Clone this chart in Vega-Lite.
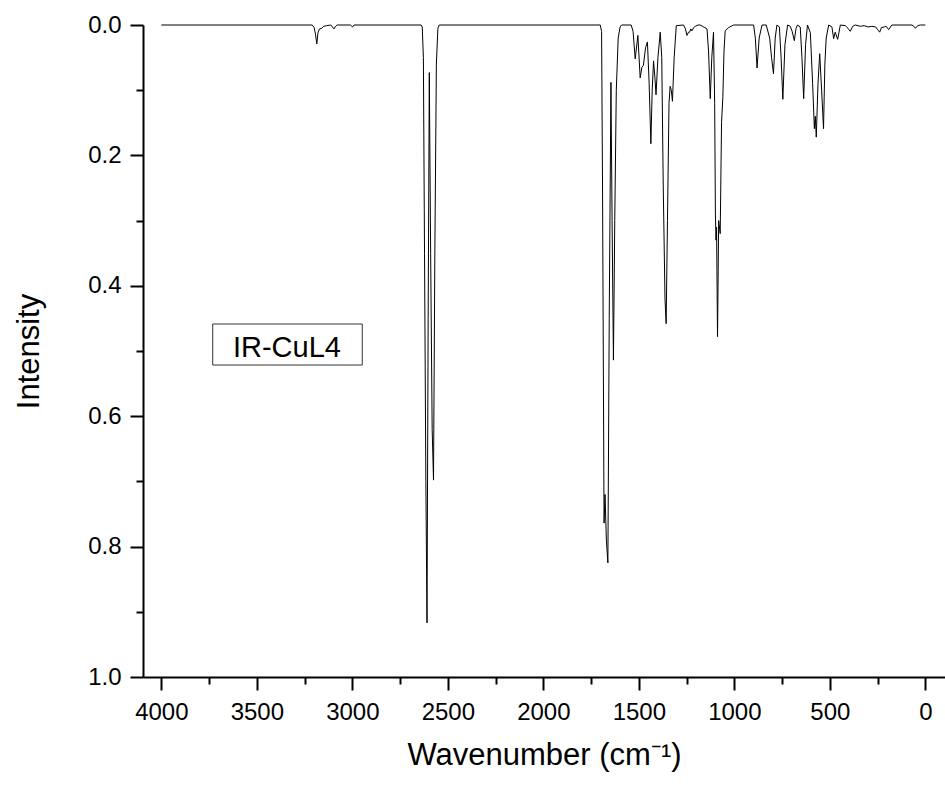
{
  "$schema": "https://vega.github.io/schema/vega-lite/v6.json",
  "width": 802,
  "height": 652,
  "autosize": {"type": "none"},
  "padding": {"left": 143, "top": 25, "right": 0, "bottom": 108},
  "background": "white",
  "config": {"view": {"stroke": null}, "font": "Liberation Sans"},
  "datasets": {
    "spectrum": [
      {"w": 4000, "i": 0}, {"w": 3210, "i": 0}, {"w": 3200, "i": 0.004}, {"w": 3193, "i": 0.014}, {"w": 3186, "i": 0.029}, {"w": 3180, "i": 0.012}, {"w": 3172, "i": 0.006}, {"w": 3160, "i": 0.005}, {"w": 3150, "i": 0.002}, {"w": 3134, "i": 0.001}, {"w": 3113, "i": 0}, {"w": 3104, "i": 0.003}, {"w": 3096, "i": 0.006}, {"w": 3088, "i": 0.002}, {"w": 3079, "i": 0}, {"w": 3010, "i": 0}, {"w": 2999, "i": 0.003}, {"w": 2991, "i": 0},
      {"w": 2640, "i": 0}, {"w": 2634, "i": 0.003}, {"w": 2628, "i": 0.05}, {"w": 2622, "i": 0.35}, {"w": 2615, "i": 0.7}, {"w": 2609, "i": 0.917}, {"w": 2603, "i": 0.45}, {"w": 2597, "i": 0.073}, {"w": 2590, "i": 0.35}, {"w": 2582, "i": 0.62}, {"w": 2575, "i": 0.698}, {"w": 2568, "i": 0.35}, {"w": 2560, "i": 0.06}, {"w": 2552, "i": 0.005}, {"w": 2545, "i": 0},
      {"w": 1702, "i": 0}, {"w": 1695, "i": 0.01}, {"w": 1690, "i": 0.25}, {"w": 1682, "i": 0.764}, {"w": 1677, "i": 0.72}, {"w": 1670, "i": 0.79}, {"w": 1662, "i": 0.825}, {"w": 1655, "i": 0.45}, {"w": 1646, "i": 0.088}, {"w": 1640, "i": 0.3}, {"w": 1633, "i": 0.514}, {"w": 1626, "i": 0.3}, {"w": 1618, "i": 0.1}, {"w": 1608, "i": 0.02}, {"w": 1598, "i": 0.003}, {"w": 1590, "i": 0},
      {"w": 1540, "i": 0}, {"w": 1530, "i": 0.01}, {"w": 1519, "i": 0.052}, {"w": 1505, "i": 0.016}, {"w": 1493, "i": 0.081}, {"w": 1484, "i": 0.065}, {"w": 1476, "i": 0.062}, {"w": 1465, "i": 0.035}, {"w": 1455, "i": 0.026}, {"w": 1446, "i": 0.09}, {"w": 1437, "i": 0.182}, {"w": 1430, "i": 0.1}, {"w": 1423, "i": 0.055}, {"w": 1416, "i": 0.08}, {"w": 1410, "i": 0.107}, {"w": 1400, "i": 0.05}, {"w": 1388, "i": 0.011}, {"w": 1380, "i": 0.05}, {"w": 1372, "i": 0.25}, {"w": 1363, "i": 0.42}, {"w": 1357, "i": 0.458}, {"w": 1350, "i": 0.3}, {"w": 1342, "i": 0.12}, {"w": 1336, "i": 0.094}, {"w": 1330, "i": 0.1}, {"w": 1324, "i": 0.117}, {"w": 1315, "i": 0.05}, {"w": 1304, "i": 0.001},
      {"w": 1266, "i": 0}, {"w": 1256, "i": 0.006}, {"w": 1248, "i": 0.016}, {"w": 1240, "i": 0.011}, {"w": 1234, "i": 0.011}, {"w": 1228, "i": 0.006}, {"w": 1222, "i": 0.009}, {"w": 1213, "i": 0.004}, {"w": 1205, "i": 0.002}, {"w": 1190, "i": 0}, {"w": 1179, "i": 0}, {"w": 1160, "i": 0.003}, {"w": 1143, "i": 0.006}, {"w": 1135, "i": 0.04}, {"w": 1126, "i": 0.113}, {"w": 1118, "i": 0.05}, {"w": 1109, "i": 0.011}, {"w": 1103, "i": 0.12}, {"w": 1099, "i": 0.29}, {"w": 1096, "i": 0.33}, {"w": 1093, "i": 0.31}, {"w": 1088, "i": 0.478}, {"w": 1082, "i": 0.3}, {"w": 1074, "i": 0.32}, {"w": 1067, "i": 0.15}, {"w": 1060, "i": 0.11}, {"w": 1054, "i": 0.04}, {"w": 1048, "i": 0.009}, {"w": 1030, "i": 0.004}, {"w": 1004, "i": 0},
      {"w": 899, "i": 0}, {"w": 890, "i": 0.02}, {"w": 881, "i": 0.066}, {"w": 870, "i": 0.02}, {"w": 855, "i": 0}, {"w": 833, "i": 0}, {"w": 815, "i": 0.02}, {"w": 805, "i": 0.05}, {"w": 795, "i": 0.075}, {"w": 786, "i": 0.02}, {"w": 777, "i": 0}, {"w": 764, "i": 0.003}, {"w": 755, "i": 0.05}, {"w": 746, "i": 0.114}, {"w": 735, "i": 0.03}, {"w": 721, "i": 0}, {"w": 707, "i": 0.002}, {"w": 697, "i": 0.01}, {"w": 686, "i": 0.024}, {"w": 677, "i": 0.005}, {"w": 669, "i": 0}, {"w": 655, "i": 0.003}, {"w": 646, "i": 0.05}, {"w": 637, "i": 0.113}, {"w": 627, "i": 0.03}, {"w": 617, "i": 0}, {"w": 602, "i": 0.012}, {"w": 590, "i": 0.09}, {"w": 581, "i": 0.159}, {"w": 576, "i": 0.14}, {"w": 571, "i": 0.172}, {"w": 562, "i": 0.09}, {"w": 553, "i": 0.044}, {"w": 543, "i": 0.1}, {"w": 533, "i": 0.159}, {"w": 526, "i": 0.06}, {"w": 519, "i": 0.02}, {"w": 506, "i": 0},
      {"w": 489, "i": 0.003}, {"w": 480, "i": 0.021}, {"w": 472, "i": 0.011}, {"w": 459, "i": 0.022}, {"w": 445, "i": 0}, {"w": 419, "i": 0.001}, {"w": 405, "i": 0.005}, {"w": 393, "i": 0.0097}, {"w": 380, "i": 0.002}, {"w": 367, "i": 0}, {"w": 340, "i": 0.002}, {"w": 320, "i": 0.001}, {"w": 300, "i": 0.003}, {"w": 280, "i": 0.002}, {"w": 260, "i": 0.003}, {"w": 250, "i": 0.007}, {"w": 239, "i": 0.011}, {"w": 230, "i": 0.004}, {"w": 215, "i": 0.003}, {"w": 205, "i": 0.002}, {"w": 192, "i": 0.007}, {"w": 175, "i": 0}, {"w": 70, "i": 0}, {"w": 60, "i": 0.002}, {"w": 52, "i": 0.005}, {"w": 40, "i": 0.001}, {"w": 26, "i": 0}, {"w": 0, "i": 0}
    ],
    "legendbox": [
      {"x1": 3731, "x2": 2948, "y1": 0.4586, "y2": 0.5215, "label": "IR-CuL4", "lx": 3625, "ly": 0.5087}
    ]
  },
  "resolve": {"axis": {"x": "independent", "y": "independent"}},
  "layer": [
    {
      "data": {"name": "spectrum"},
      "mark": {"type": "line", "color": "black", "strokeWidth": 1},
      "encoding": {
        "x": {
          "field": "w", "type": "quantitative",
          "scale": {"domain": [-103, 4096], "reverse": true, "nice": false, "zero": false},
          "axis": {
            "orient": "bottom",
            "values": [4000, 3500, 3000, 2500, 2000, 1500, 1000, 500, 0],
            "format": "d",
            "grid": false,
            "domainColor": "black", "domainWidth": 2,
            "tickColor": "black", "tickWidth": 2, "tickSize": 13,
            "labelFontSize": 24, "labelColor": "black", "labelPadding": 10, "labelFont": "Liberation Sans",
            "title": "Wavenumber (cm⁻¹)",
            "titleFontSize": 31, "titleFontWeight": "normal", "titleColor": "black", "titlePadding": 16, "titleFont": "Liberation Sans"
          }
        },
        "y": {
          "field": "i", "type": "quantitative",
          "scale": {"domain": [0, 1], "reverse": true, "nice": false, "zero": false},
          "axis": {
            "orient": "left",
            "values": [0, 0.2, 0.4, 0.6, 0.8, 1.0],
            "format": ".1f",
            "grid": false,
            "domainColor": "black", "domainWidth": 2,
            "tickColor": "black", "tickWidth": 2, "tickSize": 13,
            "labelFontSize": 24, "labelColor": "black", "labelPadding": 9, "labelFont": "Liberation Sans",
            "title": "Intensity",
            "titleFontSize": 31, "titleFontWeight": "normal", "titleColor": "black", "titlePadding": 42, "titleFont": "Liberation Sans"
          }
        }
      }
    },
    {
      "data": {"name": "spectrum"},
      "mark": {"type": "line", "opacity": 0},
      "encoding": {
        "x": {
          "field": "w", "type": "quantitative",
          "axis": {
            "orient": "bottom",
            "values": [3750, 3250, 2750, 2250, 1750, 1250, 750, 250],
            "labels": false, "domain": false, "grid": false, "title": null,
            "tickColor": "black", "tickWidth": 2, "tickSize": 7
          }
        },
        "y": {
          "field": "i", "type": "quantitative",
          "axis": {
            "orient": "left",
            "values": [0.1, 0.3, 0.5, 0.7, 0.9],
            "labels": false, "domain": false, "grid": false, "title": null,
            "tickColor": "black", "tickWidth": 2, "tickSize": 7
          }
        }
      }
    },
    {
      "data": {"name": "legendbox"},
      "mark": {"type": "rect", "fill": "white", "stroke": "#333333", "strokeWidth": 1},
      "encoding": {
        "x": {"field": "x1", "type": "quantitative", "axis": null},
        "x2": {"field": "x2"},
        "y": {"field": "y1", "type": "quantitative", "axis": null},
        "y2": {"field": "y2"}
      }
    },
    {
      "data": {"name": "legendbox"},
      "mark": {"type": "text", "align": "left", "baseline": "alphabetic", "fontSize": 29, "font": "Liberation Sans", "color": "black"},
      "encoding": {
        "x": {"field": "lx", "type": "quantitative", "axis": null},
        "y": {"field": "ly", "type": "quantitative", "axis": null},
        "text": {"field": "label"}
      }
    }
  ]
}
